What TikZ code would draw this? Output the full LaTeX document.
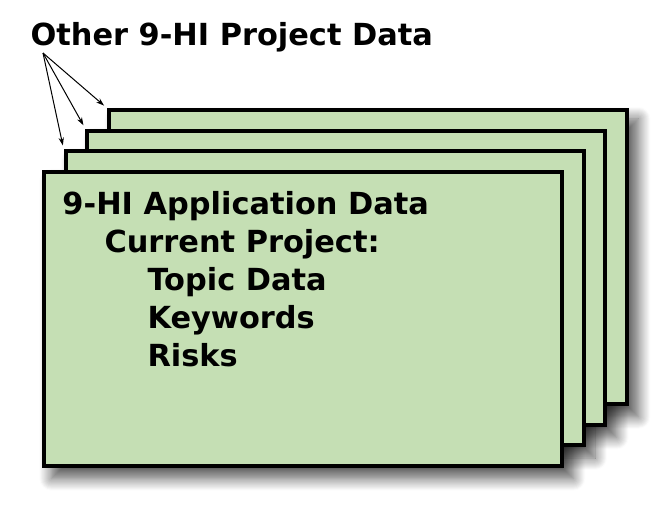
\documentclass[tikz,border=0pt]{standalone}
\usepackage{fontspec}
\setmainfont{DejaVu Sans}
\usetikzlibrary{arrows.meta,shadows.blur,backgrounds}

\definecolor{cardgreen}{RGB}{197,223,180}

\tikzset{every picture/.style={line width=0.75pt}}
\tikzset{
  card/.style={draw, line width=3pt, fill=cardgreen, inner sep=0pt,
    minimum width=388.5pt, minimum height=220.5pt},
  cardtext/.style={font=\fontsize{22.8}{27}\selectfont\bfseries, inner sep=0pt, anchor=base west},
  cardshadow/.style={blur shadow={shadow xshift=7pt, shadow yshift=-8pt,
    shadow blur radius=9pt, shadow blur steps=12, shadow opacity=65}},
  pointer/.style={-{Stealth[length=6pt,width=4pt]}, shorten >=3pt}
}

\begin{document}
\begin{tikzpicture}[x=0.75pt,y=0.75pt,yscale=-1,xscale=1]
\useasboundingbox (0,0) rectangle (665,508);

%Stacked cards, back to front
\node [card] (card3) at (368.1,257.2) {};
\node [card] (card2) at (346.4,277.8) {};
\node [card] (card1) at (324.7,298.4) {};
\node [card] (card0) at (303,319) {};

%Shadows behind the whole stack
\begin{scope}[on background layer]
\path [cardshadow] (card3.north west) rectangle (card3.south east);
\path [cardshadow] (card2.north west) rectangle (card2.south east);
\path [cardshadow] (card1.north west) rectangle (card1.south east);
\path [cardshadow] (card0.north west) rectangle (card0.south east);
\end{scope}

% Text Node
\node [cardtext] (other) at (30,45) {Other 9-HI Project Data};
\coordinate (fork) at (43,53);

%Pointers to the other projects
\draw [pointer] (fork) -- (card3.north west);
\draw [pointer] (fork) -- (card2.north west);
\draw [pointer] (fork) -- (card1.north west);

% Text Node
\node [cardtext] (appdata) at (62,214) {9-HI Application Data};
\node [cardtext] (current) at (104,252) {Current Project:};
\node [cardtext] (topic) at (147,290) {Topic Data};
\node [cardtext] (keywords) at (147,328) {Keywords};
\node [cardtext] (risks) at (147,366) {Risks};

\end{tikzpicture}
\end{document}
